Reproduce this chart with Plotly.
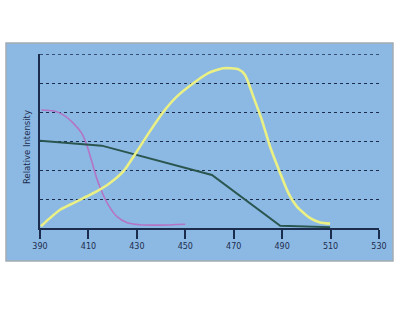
import plotly.graph_objects as go

# Data
x_ticks = [390, 410, 430, 450, 470, 490, 510, 530]
y_grid = [1, 2, 3, 4, 5, 6]

purple_x = [390.5, 395.5, 399.6, 403.8, 407.2, 409.3, 411.4, 413.4, 415.5, 418.2, 421.7, 425.8, 431.3, 440, 450]
purple_y = [4.07, 4.04, 3.90, 3.61, 3.27, 2.87, 2.29, 1.72, 1.26, 0.80, 0.40, 0.19, 0.11, 0.10, 0.13]

yellow_x = [390.4, 394.1, 398.3, 403.8, 407.9, 413.4, 418.9, 424.4, 430, 435.5, 441, 446.5, 453.3,
            459.5, 465.7, 472, 474.7, 478.1, 481.6, 485, 489.2, 492.6, 496.1, 501.6, 505.7, 509.8]
yellow_y = [0.06, 0.34, 0.63, 0.86, 1.03, 1.26, 1.55, 1.95, 2.64, 3.35, 4.01, 4.53, 4.99,
            5.34, 5.51, 5.47, 5.28, 4.53, 3.73, 2.81, 1.89, 1.20, 0.74, 0.34, 0.19, 0.15]

green_x = [390, 415.5, 461, 489.2, 509.8]
green_y = [3.01, 2.84, 1.83, 0.08, 0.03]

NAVY = "#1c2c4c"

fig = go.Figure()
fig.add_trace(go.Scatter(x=purple_x, y=purple_y, mode="lines",
                         line=dict(color="#b474c6", width=1.6, shape="spline", smoothing=0.6)))
fig.add_trace(go.Scatter(x=green_x, y=green_y, mode="lines",
                         line=dict(color="#2b5650", width=2)))
fig.add_trace(go.Scatter(x=yellow_x, y=yellow_y, mode="lines",
                         line=dict(color="#eaf084", width=2.6, shape="spline", smoothing=0.6)))

L, R, T, B = 40, 21, 54, 82
W, H = 400, 310
pw, ph = W - L - R, H - T - B

def px_x(p):
    return (p - L) / pw

def px_y(p):
    return (H - B - p) / ph

fig.add_shape(type="rect", xref="paper", yref="paper",
              x0=px_x(6), x1=px_x(393), y0=px_y(261), y1=px_y(43),
              fillcolor="#8cb9e4", line=dict(color="#a4acb4", width=1.5), layer="below")

# top dotted gridline (plotly omits the gridline lying on the plot edge)
fig.add_shape(type="line", xref="paper", yref="y", x0=0, x1=1, y0=y_grid[-1], y1=y_grid[-1],
              line=dict(color=NAVY, width=1.3, dash="dot"), layer="below")

fig.add_annotation(text="Relative Intensity", xref="paper", yref="paper",
                   x=px_x(20), y=px_y(147), textangle=-90, showarrow=False,
                   font=dict(family="DejaVu Sans", size=8.5, color=NAVY))

fig.update_layout(
    width=W, height=H,
    margin=dict(l=L, r=R, t=T, b=B),
    paper_bgcolor="white",
    plot_bgcolor="rgba(0,0,0,0)",
    showlegend=False,
    xaxis=dict(range=[390, 530], tickvals=x_ticks, ticktext=[str(v) for v in x_ticks],
               showgrid=False, zeroline=False, showline=True, linecolor=NAVY, linewidth=2,
               ticks="outside", ticklen=9, tickwidth=2, tickcolor=NAVY,
               tickfont=dict(family="DejaVu Sans", size=8, color=NAVY)),
    yaxis=dict(range=[0, y_grid[-1]], tickvals=y_grid, showticklabels=False, showgrid=True,
               gridcolor=NAVY, gridwidth=1.3, griddash="dot", zeroline=False,
               showline=True, linecolor=NAVY, linewidth=2, ticks=""),
)

fig.write_html("out.html")
